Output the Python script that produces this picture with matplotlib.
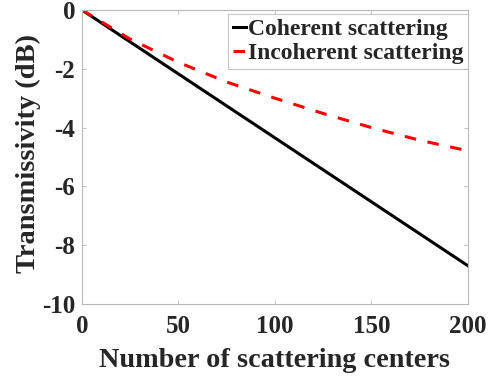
import matplotlib
matplotlib.use("Agg")
import matplotlib.pyplot as plt
import numpy as np

# Data
n_coherent = [0, 200]
t_coherent = [0.0, -8.7]
n_incoherent = [0, 25, 50, 75, 100, 125, 150, 175, 200]
t_incoherent = [0.0, -0.99, -1.78, -2.45, -3.0, -3.52, -4.0, -4.43, -4.79]
x_ticks = [0, 50, 100, 150, 200]
y_ticks = [0, -2, -4, -6, -8, -10]

plt.rcParams['font.family'] = ['Liberation Serif', 'DejaVu Serif']
plt.rcParams['font.weight'] = 'bold'

fig = plt.figure(figsize=(4.9, 3.76), dpi=100)
ax = fig.add_axes([0.1673, 0.1915, 0.955 - 0.1673, 0.9734 - 0.1915])

ax.plot(n_coherent, t_coherent, color='black', lw=2.2, label='Coherent scattering')
ax.plot(n_incoherent, t_incoherent, color='red', lw=2.2, ls=(0, (3.8, 3.8)),
        label='Incoherent scattering')

ax.set_xlim(0, 200)
ax.set_ylim(-10, 0)
ax.set_xticks(x_ticks)
ax.set_yticks(y_ticks)
ax.set_xticklabels([str(v) for v in x_ticks])
ax.set_yticklabels([str(v) for v in y_ticks])

for s in ax.spines.values():
    s.set_color('#b8b8b8')
    s.set_linewidth(0.8)
ax.tick_params(direction='in', length=3, width=0.6, color='#b8b8b8',
               top=True, right=True, labelsize=18, labelcolor='#262626')
ax.tick_params(axis='x', pad=8)
ax.tick_params(axis='y', pad=5)
for lab in ax.get_xticklabels() + ax.get_yticklabels():
    lab.set_fontweight('bold')

ax.set_xlabel('Number of scattering centers', fontsize=20.3, fontweight='bold',
              color='#262626', labelpad=7)
ax.set_ylabel('Transmissivity (dB)', fontsize=20.5, fontweight='bold',
              color='#262626', labelpad=0)
ax.yaxis.set_label_coords(-0.106, 0.513)

leg = ax.legend(loc='upper right', bbox_to_anchor=(1.0, 0.986), frameon=True,
                fancybox=False, handlelength=0.55, handletextpad=0.08,
                borderpad=0.2, labelspacing=0.08, borderaxespad=0.0,
                prop={'weight': 'bold', 'size': 17})
leg.get_frame().set_edgecolor('#b8b8b8')
leg.get_frame().set_linewidth(0.8)
for t in leg.get_texts():
    t.set_color('#262626')

fig.savefig('out.png', dpi=100)
